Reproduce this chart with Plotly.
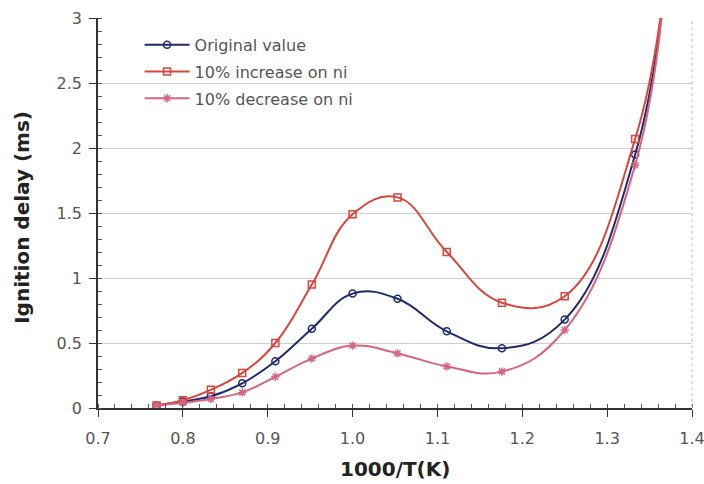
import plotly.graph_objects as go

# Inverse temperature (1000/T) for T = 1300 K down to 730 K
inv_T = [0.769, 0.800, 0.833, 0.870, 0.909, 0.952, 1.000, 1.053, 1.111, 1.176, 1.250, 1.333, 1.370]

# Ignition delay (ms)
original = [0.02, 0.05, 0.09, 0.19, 0.36, 0.61, 0.88, 0.84, 0.59, 0.46, 0.68, 1.95, 3.40]
increase_10 = [0.02, 0.06, 0.14, 0.27, 0.50, 0.95, 1.49, 1.62, 1.20, 0.81, 0.86, 2.07, 3.40]
decrease_10 = [0.02, 0.04, 0.07, 0.12, 0.24, 0.38, 0.48, 0.42, 0.32, 0.28, 0.60, 1.87, 3.40]

series_names = ["Original value", "10% increase on ni", "10% decrease on ni"]

styles = [
    (original, "#1f2a6b", "circle-open"),
    (increase_10, "#d8463e", "square-open"),
    (decrease_10, "#d7657e", "asterisk-open"),
]

FONT = "DejaVu Sans, Verdana, sans-serif"

fig = go.Figure()

for name, (vals, col, sym) in zip(series_names, styles):
    fig.add_trace(go.Scatter(
        x=inv_T, y=vals, name=name, legendgroup=name,
        mode="lines+markers",
        line=dict(color=col, width=2, shape="spline", smoothing=1.2),
        marker=dict(symbol=sym, size=7, color=col, line=dict(width=1.5, color=col)),
    ))

tick_font = dict(family=FONT, size=16, color="#555555")
title_font = dict(family=FONT, size=20, color="#222222")

fig.update_layout(
    width=704, height=484,
    margin=dict(l=98, r=12, t=18, b=76, autoexpand=False),
    paper_bgcolor="white", plot_bgcolor="white",
    font=dict(family=FONT, size=15, color="#555555"),
    showlegend=True,
    legend=dict(
        x=0.07, y=0.975, xanchor="left", yanchor="top",
        bgcolor="rgba(255,255,255,0)",
        font=dict(family=FONT, size=16, color="#555555"),
        tracegroupgap=3,
        itemwidth=45,
    ),
    xaxis=dict(
        range=[0.7, 1.4], dtick=0.1, tickformat=".1f",
        automargin=False,
        ticklabeloverflow="allow",
        showgrid=False, zeroline=False,
        showline=True, linecolor="#333333", linewidth=1.5,
        ticks="outside", ticklen=7, tickcolor="#333333",
        ticklabelstandoff=8,
        minor=dict(dtick=0.02, ticks="inside", ticklen=4, tickcolor="#555555"),
        tickfont=tick_font,
    ),
    yaxis=dict(
        range=[0, 3], dtick=0.5,
        automargin=False,
        ticklabeloverflow="allow",
        showgrid=True, gridcolor="#cfcfcf", gridwidth=1,
        zeroline=False,
        showline=True, linecolor="#333333", linewidth=1.5,
        ticks="outside", ticklen=7, tickcolor="#333333",
        ticklabelstandoff=4,
        minor=dict(dtick=0.1, ticks="inside", ticklen=4, tickcolor="#555555"),
        tickfont=tick_font,
    ),
)

# Axis titles
fig.add_annotation(text="<b>1000/T(K)</b>", xref="paper", yref="paper",
                   x=0.5, y=-0.157, xanchor="center", yanchor="middle",
                   showarrow=False, font=title_font)
fig.add_annotation(text="<b>Ignition delay (ms)</b>", xref="paper", yref="paper",
                   x=-0.128, y=0.49, xanchor="center", yanchor="middle",
                   textangle=-90, showarrow=False, font=title_font)

# faint dotted right border of the plotting area
fig.add_shape(type="line", xref="paper", yref="paper", x0=1, x1=1, y0=0, y1=1,
              line=dict(color="#bbbbbb", width=1, dash="dot"))

fig.write_html("out.html")
